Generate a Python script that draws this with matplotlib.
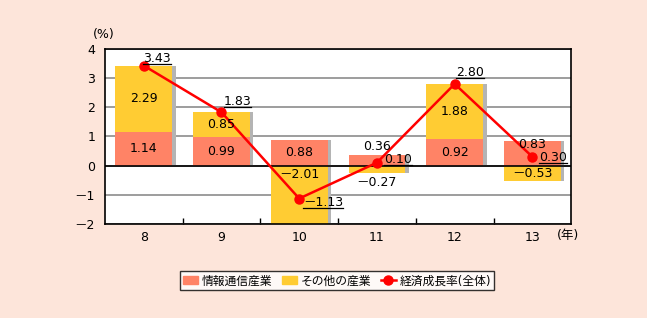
import numpy as np
import matplotlib.pyplot as plt
from matplotlib.patches import Patch
from matplotlib.lines import Line2D

plt.rcParams["font.family"] = ["DejaVu Sans", "Noto Sans CJK JP"]
plt.rcParams["axes.unicode_minus"] = False

years = ["8", "9", "10", "11", "12", "13"]
info_industry = [1.14, 0.99, 0.88, 0.36, 0.92, 0.83]
other_industry = [2.29, 0.85, -2.01, -0.27, 1.88, -0.53]
growth_total = [3.43, 1.83, -1.13, 0.10, 2.80, 0.30]

info_color = "#FF8366"
other_color = "#FFCC33"
line_color = "#FF0000"
background = "#FDE5DA"


def fmt(value):
    return f"－{abs(value):.2f}" if value < 0 else f"{value:.2f}"


x = np.arange(len(years))
info = np.array(info_industry)
other = np.array(other_industry)
total = np.array(growth_total)
other_bottom = np.where(other > 0, info, 0.0)
bar_top = np.maximum(info, other_bottom + other)
bar_bottom = np.minimum(0.0, other_bottom + other)

fig = plt.figure(figsize=(6.47, 3.18), dpi=100, facecolor=background)
ax = fig.add_axes([0.162, 0.296, 0.721, 0.55])
ax.set_facecolor("white")

width = 0.73
ax.bar(x + 0.045, bar_top - bar_bottom, width, bottom=bar_bottom, color="#B4B4B4", zorder=1)
ax.bar(x, info, width, color=info_color, zorder=2)
ax.bar(x, other, width, bottom=other_bottom, color=other_color, zorder=2)
ax.axhline(0, color="black", lw=1.2, zorder=3)
ax.plot(x, total, color=line_color, lw=1.8, marker="o", ms=6.5, zorder=5)

# segment labels (centred, a few nudged to avoid overlaps)
info_label_y = info / 2
other_label_y = other_bottom + other / 2
info_label_y[3] = 0.66
info_label_y[5] = 0.72
other_label_y[2] = -0.31
other_label_y[3] = -0.59
for i in x:
    ax.text(i, info_label_y[i], fmt(info[i]), ha="center", va="center", fontsize=9, zorder=6)
    ax.text(i, other_label_y[i], fmt(other[i]), ha="center", va="center", fontsize=9, zorder=6)

# totals: offsets in pixels from the marker, underlined
total_offsets = [(13, 4), (16, 7), (24, -7), (21, 0), (15, 8), (21, -4)]
total_texts = []
for i in x:
    t = ax.annotate(fmt(total[i]), (i, total[i]), xytext=total_offsets[i],
                    textcoords="offset pixels", ha="center", va="baseline",
                    fontsize=9, zorder=6)
    total_texts.append(t)

ax.set_xlim(-0.5, len(years) - 0.5)
ax.set_ylim(-2, 4)
ax.set_yticks(range(-2, 5))
ax.set_yticklabels(["－2", "－1", "0", "1", "2", "3", "4"], fontsize=9)
ax.set_xticks(x)
ax.set_xticklabels(years, fontsize=9)
ax.set_xticks(x[:-1] + 0.5, minor=True)
ax.tick_params(axis="x", which="major", length=0, pad=5)
ax.tick_params(axis="x", which="minor", direction="in", length=4, width=1, color="black")
ax.tick_params(axis="y", length=0, pad=7)
ax.text(5.46, -2.18, "(年)", ha="center", va="top", fontsize=9)
ax.text(-0.51, 4.48, "(%)", ha="center", va="center", fontsize=9)
ax.grid(axis="y", color="#8C8C8C", lw=1.2, zorder=0)
ax.set_axisbelow(True)
for spine in ax.spines.values():
    spine.set_color("black")
    spine.set_linewidth(1.2)

handles = [
    Patch(color=info_color, label="情報通信産業"),
    Patch(color=other_color, label="その他の産業"),
    Line2D([], [], color=line_color, lw=1.8, marker="o", ms=6.5, label="経済成長率(全体)"),
]
legend = fig.legend(handles=handles, loc="center", bbox_to_anchor=(0.521, 0.117), ncol=3,
                    fontsize=8.5, frameon=True, fancybox=False, edgecolor="black",
                    handlelength=1.3, handletextpad=0.3, columnspacing=0.8,
                    borderpad=0.25)
legend.get_frame().set_linewidth(1.0)

# underline the totals, two pixels below the baseline
fig.canvas.draw()
renderer = fig.canvas.get_renderer()
to_data = ax.transData.inverted()
for i, t in enumerate(total_texts):
    bb = t.get_window_extent(renderer)
    anchor = ax.transData.transform((x[i], total[i]))
    base_y = anchor[1] + total_offsets[i][1] - 2
    (x0, y0), (x1, _) = to_data.transform([(bb.x0, base_y), (bb.x1, base_y)])
    ax.plot([x0, x1], [y0, y0], color="black", lw=0.9, zorder=6, clip_on=False)

fig.savefig("out.png", dpi=100, facecolor=background)
